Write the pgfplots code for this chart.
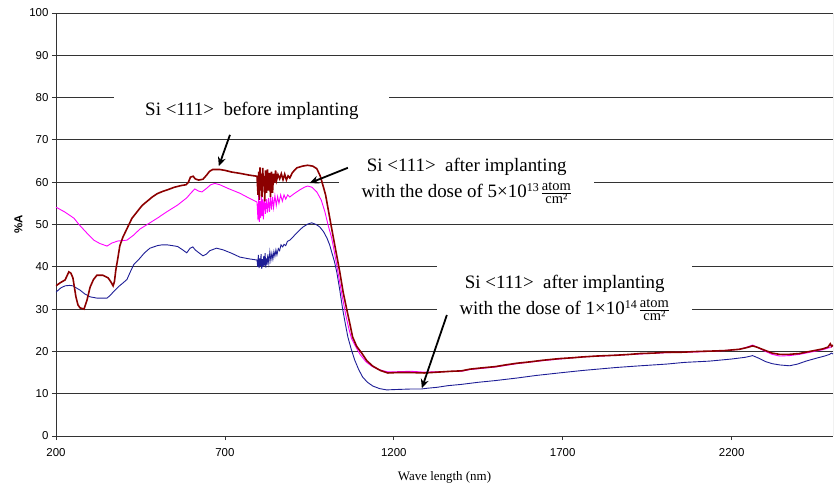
\documentclass[border=0pt]{standalone}
\usepackage{amsmath}
\usepackage{fontspec}
\usepackage{pgfplots}
\pgfplotsset{compat=1.18}
\usetikzlibrary{arrows.meta}
\setmainfont{Liberation Serif}
\newfontfamily\arialf{Liberation Sans}
\definecolor{dred}{RGB}{140,0,0}
\definecolor{mag}{RGB}{255,0,255}
\definecolor{navyb}{RGB}{30,30,150}
\newcommand{\fr}{\kern1.5bp\ensuremath{\genfrac{}{}{0.8pt}{1}{\mbox{\fontsize{14.5}{15}\selectfont atom}}{\mbox{\fontsize{14.5}{15}\selectfont cm²}}}}
\begin{document}
\begin{tikzpicture}
\begin{axis}[
  scale only axis, width=777bp, height=423bp,
  xmin=200, xmax=2500, ymin=0, ymax=100,
  xtick={200,700,1200,1700,2200}, ytick={0,10,...,100},
  ymajorgrids, grid style={black!80, line width=0.9bp},
  axis x line*=bottom, axis y line*=left,
  axis line style={black!80, line width=0.9bp},
  tick align=outside, major tick length=4bp,
  tick style={black!80, line width=0.8bp},
  /pgf/number format/assume math mode=true,
  /pgf/number format/1000 sep={},
  ticklabel style={font=\arialf\fontsize{11.5}{13}\selectfont},
  xticklabel style={yshift=-5bp},
  xlabel={Wave length (nm)},
  xlabel style={font=\fontsize{13}{15}\selectfont, yshift=-8bp},
  ylabel={\textbf{\%A}},
  ylabel style={font=\arialf\fontsize{11.5}{13}\selectfont},
]
\addplot[navyb, line width=0.9bp] coordinates {
(200,34)(214,35)(227,35.5)(240,35.6)(250,35.5)(260,35)(271,34.5)(285,33.6)(301,32.9)(321,32.6)(336,32.6)(351,32.6)(360,33.2)(369,34)(385,35.3)(400,36.3)(410,37)(420,38.8)(430,40.5)(448,42)(462,43.3)(478,44.4)(500,45)(515,45.2)(528,45.2)(545,45)(560,44.8)(575,44)(587,43.3)(597,44.4)(605,44.7)(612,44)(620,43.5)(635,42.6)(645,43)(655,43.8)(675,44.4)(695,44)(720,43.2)(744,42.3)(770,41.9)(795,41.6)
(797,40)(799,42.8)(801,39.7)(803,42)(805,40.2)(807,43)(809,39.5)(811,41.8)(813,40)(815,42.6)(817,40.3)(819,43.2)(821,39.8)(823,42)(825,40.5)(827,42.9)(830,40.8)(833,43.5)(836,41.5)(839,43.2)(842,41.8)(845,43.6)(848,42.5)(851,44)(854,42.8)(858,44.3)(862,43.8)(866,45.2)(871,44.7)(875,45.3)(880,45)(885,46)(892,46.3)
(901,47)(910,47.8)(920,48.6)(931,49.4)(945,50.1)(957,50.4)(970,50)(981,49.4)(992,48.3)(1002,46.8)(1010,45.2)(1016,43.5)(1024,41.3)(1031,38.8)(1040,34.5)(1049,29.8)(1057,26.3)(1064,23.4)(1074,20.5)(1084,18)(1096,15.7)(1108,13.9)(1122,12.7)(1138,11.8)(1158,11.2)(1179,10.9)(1210,11)(1247,11.1)(1280,11.1)(1300,11.3)(1327,11.5)(1360,11.9)(1400,12.2)(1450,12.7)(1500,13.1)(1564,13.7)(1620,14.3)(1700,15)(1760,15.5)(1859,16.2)(1930,16.6)(2007,17)(2060,17.4)(2134,17.7)(2200,18.2)(2240,18.6)(2262,19)(2280,18.4)(2300,17.6)(2320,17.1)(2342,16.8)(2371,16.6)(2395,17)(2420,17.7)(2451,18.4)(2475,18.9)(2490,19.3)(2495,19.6)(2500,19.4)
};
\addplot[mag, line width=0.9bp] coordinates {
(200,54.1)(225,53)(253,51.5)(268,50)(283,48.7)(297,47.5)(312,46.3)(330,45.5)(351,44.9)(365,45.6)(383,46.1)(410,46.3)(430,47.5)(448,48.9)(470,50)(500,51.5)(528,53)(560,54.6)(587,56.3)(600,57.5)(611,58.4)(622,57.9)(632,57.7)(645,58.5)(658,59.4)(670,59.7)(685,59.4)(710,58.5)(744,57.4)(770,56.3)(795,55.3)
(798,51)(800,57)(802,50.6)(804,55.5)(806,51.5)(808,57)(810,52)(812,56)(814,51.2)(817,56.5)(820,52.5)(823,56)(826,52.8)(829,56.2)(832,53)(835,56.5)(838,53.5)(841,56.5)(844,54)(848,56.8)(852,54.5)(856,56.6)(860,55)(865,57)(870,55.5)(875,57)(880,56)(886,57)(892,56.5)
(905,57.3)(922,58.2)(935,58.8)(945,59.1)(958,58.8)(972,57.7)(985,55.8)(996,53)(1005,50)(1016,46.8)(1024,43.5)(1031,40.4)(1045,34)(1058,28.5)(1068,25)(1075,23)(1088,21)(1100,19.3)(1118,17.5)(1135,16.5)(1155,15.7)(1180,15.2)(1210,15.2)(1250,15.3)(1290,15.1)(1330,15.2)(1400,15.3)(1425,15.7)(1500,16.3)(1564,17.1)(1640,17.8)(1691,18.2)(1760,18.7)(1859,19.1)(1930,19.4)(2007,19.7)(2105,19.9)(2180,20.2)(2223,20.5)(2245,21)(2262,21.5)(2275,21)(2297,20.1)(2320,19.3)(2342,18.9)(2370,19)(2401,19.3)(2445,20)(2470,20.4)(2490,20.9)(2500,21.3)
};
\addplot[dred, line width=1.6bp] coordinates {
(200,35.5)(212,36.2)(227,36.9)(238,38.8)(244,38.5)(250,37.4)(259,32.9)(265,31)(271,30.3)(283,30)(292,32.2)(301,35.2)(311,37)(321,38)(339,38)(354,37.4)(362,36.5)(369,35.5)(373,36.5)(377,39.2)(383,42)(389,45)(398,47)(410,49)(425,51.5)(440,53)(455,54.5)(470,55.5)(485,56.5)(500,57.3)(515,57.8)(530,58.2)(550,58.8)(570,59.2)(585,59.4)(592,60)(598,61.2)(606,61.4)(612,60.8)(622,60.5)(635,60.7)(645,61.6)(655,62.6)(664,63)(685,63)(700,62.8)(720,62.4)(744,62.1)(770,61.7)(795,61.4)
(798,57)(800,62.5)(802,55.8)(804,63.5)(806,58)(808,62)(810,56.5)(812,63.4)(814,59)(816,61.5)(818,55.5)(820,62.8)(823,57.5)(826,63)(829,58)(832,62.2)(835,56.5)(838,62.5)(841,57.5)(844,62)(847,59.8)(850,62.8)(853,60.5)(857,61.8)(862,60.8)(867,62)(872,60.6)(877,61.9)(882,60.5)(887,61.5)(892,61)
(900,62.3)(913,63.4)(930,63.8)(945,64)(960,63.8)(972,63.2)(982,61.5)(990,59.3)(998,57)(1005,53.9)(1015,49.5)(1025,45.2)(1033,41.8)(1040,38.8)(1050,34)(1061,29.8)(1070,26.5)(1078,23.4)(1090,21.2)(1105,19.6)(1120,17.8)(1138,16.5)(1160,15.5)(1182,14.9)(1210,15)(1250,15)(1290,14.9)(1330,15.1)(1370,15.3)(1400,15.4)(1425,15.8)(1460,16.1)(1500,16.4)(1530,16.8)(1564,17.2)(1600,17.5)(1640,17.9)(1691,18.3)(1730,18.5)(1760,18.7)(1800,18.9)(1859,19.1)(1900,19.3)(1930,19.5)(1970,19.6)(2007,19.8)(2050,19.8)(2105,20)(2150,20.1)(2180,20.2)(2223,20.5)(2245,20.9)(2262,21.3)(2275,21)(2297,20.3)(2320,19.6)(2342,19.3)(2370,19.3)(2401,19.5)(2425,19.9)(2445,20.2)(2470,20.6)(2485,21)(2492,21.8)(2496,21.2)(2500,21.5)
};
\node[fill=white, minimum width=275bp, minimum height=40bp, inner sep=0pt, font=\fontsize{19}{22}\selectfont] at (axis cs:780,76.8) {Si <111>\ \ before implanting};
\node[fill=white, minimum width=255bp, minimum height=66bp, inner sep=0pt, align=center, font=\fontsize{19}{26}\selectfont] at (axis cs:1416,60.3) {Si <111>\ \ after implanting\\ with the dose of 5×10\textsuperscript{\fontsize{12}{12}\selectfont 13}\fr};
\node[fill=white, minimum width=255bp, minimum height=76bp, inner sep=0pt, align=center, font=\fontsize{19}{26}\selectfont] at (axis cs:1706,32.6) {Si <111>\ \ after implanting\\ with the dose of 1×10\textsuperscript{\fontsize{12}{12}\selectfont 14}\fr};
\draw[-{Stealth[length=9bp,width=8bp]}, line width=1.8bp] (axis cs:715,71.2) -- (axis cs:682,63.8);
\draw[-{Stealth[length=9bp,width=8bp]}, line width=1.8bp] (axis cs:1064,63.4) -- (axis cs:951,59.8);
\draw[-{Stealth[length=9bp,width=8bp]}, line width=1.8bp] (axis cs:1357,28.6) -- (axis cs:1283,11.3);
\draw[black!45, line width=0.8bp] (rel axis cs:1,0) -- (rel axis cs:1,1);
\end{axis}
\path ([shift={(-56bp,-57bp)}]current axis.south west) rectangle ([shift={(5bp,13bp)}]current axis.north east);
\end{tikzpicture}
\end{document}
